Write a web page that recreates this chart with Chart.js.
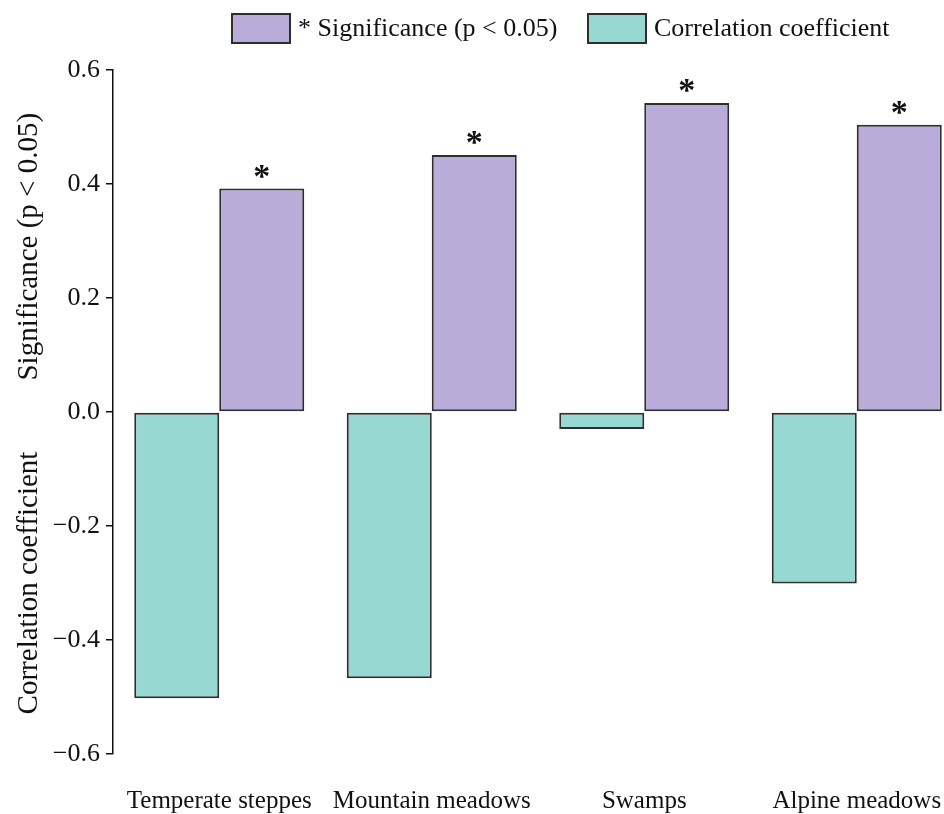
<!DOCTYPE html>
<html>
<head>
<meta charset="utf-8">
<script src="https://cdn.jsdelivr.net/npm/chart.js@4.4.0/dist/chart.umd.min.js"></script>
<style>
  html, body { margin: 0; padding: 0; overflow: hidden; background: #fff; }
  #wrap { width: 980px; height: 814px; }
</style>
</head>
<body>
<div id="wrap"><canvas id="chart"></canvas></div>
<script>
// data
const categories = ['Temperate steppes', 'Mountain meadows', 'Swamps', 'Alpine meadows'];
const correlation = [-0.502, -0.467, -0.030, -0.301];
const significance = [0.392, 0.451, 0.542, 0.504];
const significant = [true, true, true, true];
const yTicks = [-0.6, -0.4, -0.2, 0.0, 0.2, 0.4, 0.6];

const serif = '"Liberation Serif", "Times New Roman", serif';
const purple = '#b9acd9';
const teal = '#98d8d3';
const edge = '#2e2e2e';

function fmt(v) {
    const s = (Math.round(v * 10) / 10).toFixed(1);
    return s.replace('-', '\u2212');
}

// asterisks above significant bars
const starPlugin = {
    id: 'stars',
    afterDatasetsDraw(chart) {
        const ctx = chart.ctx;
        const meta = chart.getDatasetMeta(1);
        ctx.save();
        ctx.font = 'bold 34px ' + serif;
        ctx.fillStyle = '#111';
        ctx.textAlign = 'center';
        ctx.textBaseline = 'alphabetic';
        const m = ctx.measureText('*');
        meta.data.forEach(function(bar, i) {
            if (!significant[i]) return;
            const bottom = bar.y - 11;
            ctx.fillText('*', bar.x, bottom - m.actualBoundingBoxDescent);
        });
        ctx.restore();
    }
};

// split y axis title + legend at the top
const decorPlugin = {
    id: 'decor',
    afterDraw(chart) {
        const ctx = chart.ctx;
        const y = chart.scales.y;
        ctx.save();
        ctx.fillStyle = '#111';
        ctx.font = '29px ' + serif;
        ctx.textAlign = 'center';
        ctx.textBaseline = 'middle';
        [[0.29, 'Significance (p < 0.05)'], [-0.3, 'Correlation coefficient']].forEach(function(t) {
            ctx.save();
            ctx.translate(29, y.getPixelForValue(t[0]));
            ctx.rotate(-Math.PI / 2);
            ctx.fillText(t[1], 0, 0);
            ctx.restore();
        });

        // legend (significance first, as in the figure)
        const items = [
            { x: 232, color: chart.data.datasets[1].backgroundColor, label: chart.data.datasets[1].label },
            { x: 588, color: chart.data.datasets[0].backgroundColor, label: chart.data.datasets[0].label }
        ];
        ctx.font = '26px ' + serif;
        ctx.textAlign = 'left';
        items.forEach(function(it) {
            ctx.fillStyle = it.color;
            ctx.fillRect(it.x, 14, 58, 29);
            ctx.strokeStyle = edge;
            ctx.lineWidth = 2;
            ctx.strokeRect(it.x, 14, 58, 29);
            ctx.fillStyle = '#111';
            ctx.fillText(it.label, it.x + 66, 29);
        });
        ctx.restore();
    }
};

const ctx = document.getElementById('chart').getContext('2d');
new Chart(ctx, {
    type: 'bar',
    data: {
        labels: categories,
        datasets: [
            {
                label: 'Correlation coefficient',
                data: correlation,
                backgroundColor: teal,
                borderColor: edge,
                borderWidth: 2,
                borderSkipped: false,
                categoryPercentage: 0.8,
                barPercentage: 1.0
            },
            {
                label: '* Significance (p < 0.05)',
                data: significance,
                backgroundColor: purple,
                borderColor: edge,
                borderWidth: 2,
                borderSkipped: false,
                categoryPercentage: 0.8,
                barPercentage: 1.0
            }
        ]
    },
    options: {
        responsive: true,
        maintainAspectRatio: false,
        animation: false,
        layout: { padding: { top: 70, right: 17, left: 0, bottom: 0 } },
        plugins: {
            legend: { display: false },
            tooltip: { enabled: false }
        },
        scales: {
            x: {
                grid: { display: false, drawTicks: false },
                border: { display: false },
                ticks: {
                    font: { family: serif, size: 25 },
                    color: '#111',
                    padding: 32,
                    maxRotation: 0,
                    autoSkip: false
                },
                afterFit(scale) { scale.height = 60; }
            },
            y: {
                min: -0.6,
                max: 0.6,
                afterBuildTicks(scale) {
                    scale.ticks = yTicks.map(function(v) { return { value: v }; });
                },
                grid: { drawOnChartArea: false, tickLength: 7, color: '#111', lineWidth: 1.5 },
                border: { color: '#111', width: 1.5 },
                ticks: {
                    font: { family: serif, size: 26 },
                    color: '#111',
                    padding: 6,
                    callback: function(v) { return fmt(v); }
                },
                afterFit(scale) { scale.width = 113; }
            }
        }
    },
    plugins: [starPlugin, decorPlugin]
});
</script>
</body>
</html>
